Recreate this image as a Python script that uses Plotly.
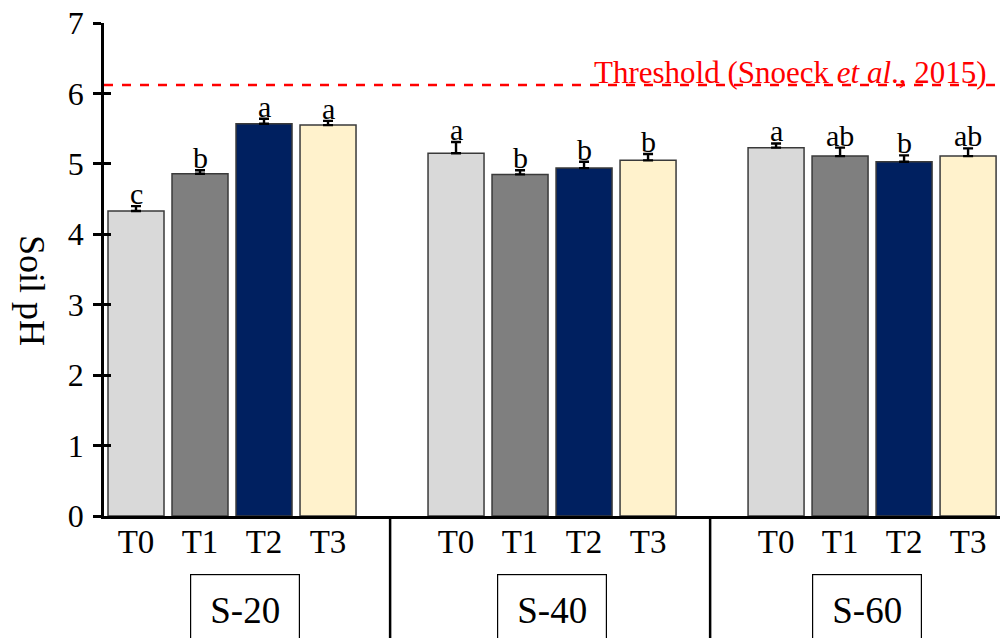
import plotly.graph_objects as go

groups = ["S-20", "S-40", "S-60"]
treatments = ["T0", "T1", "T2", "T3"]
colors = ["#d9d9d9", "#7f7f7f", "#002060", "#fff2cc"]

ph_T0 = [4.33, 5.15, 5.23]
ph_T1 = [4.86, 4.85, 5.11]
ph_T2 = [5.57, 4.94, 5.03]
ph_T3 = [5.55, 5.05, 5.11]

se_T0 = [0.07, 0.16, 0.06]
se_T1 = [0.05, 0.06, 0.12]
se_T2 = [0.07, 0.09, 0.09]
se_T3 = [0.06, 0.09, 0.11]

let_T0 = ["c", "a", "a"]
let_T1 = ["b", "b", "ab"]
let_T2 = ["a", "b", "b"]
let_T3 = ["a", "b", "ab"]

threshold = 6.12
threshold_label = "Threshold (Snoeck <i>et al</i>., 2015)"
y_ticks = [0, 1, 2, 3, 4, 5, 6, 7]

values = [ph_T0, ph_T1, ph_T2, ph_T3]
errors = [se_T0, se_T1, se_T2, se_T3]
letters = [let_T0, let_T1, let_T2, let_T3]

FONT = "Liberation Serif, Times New Roman, serif"
GROUP_STEP = 5

# page body has an 8px margin: shift the figure margins to compensate
W, H = 1008, 638
OFF = 8
PL, PR, PT, PB = 104, 1002, 23, 516      # plot area in window pixels
L, T = PL - OFF, PT - OFF
R, B = W - (PR - OFF), H - (PB - OFF)
pw, ph = PR - PL, PB - PT

fig = go.Figure()
tickvals, ticktext = [], []
annotations = []
for t, name in enumerate(treatments):
    xs = [g * GROUP_STEP + t for g in range(len(groups))]
    tickvals += xs
    ticktext += [name] * len(groups)
    fig.add_trace(go.Bar(
        x=xs, y=values[t], name=name, width=0.875,
        marker=dict(color=colors[t], line=dict(color="#3a3a3a", width=1.5)),
        error_y=dict(type="data", array=errors[t], arrayminus=[0] * len(groups),
                     symmetric=False, color="black", thickness=2.4, width=5),
        showlegend=False,
    ))
    for g in range(len(groups)):
        annotations.append(dict(
            x=xs[g], y=values[t][g] + errors[t][g], xref="x", yref="y",
            text=letters[t][g], showarrow=False, yanchor="bottom", yshift=-6,
            font=dict(family=FONT, size=30, color="black"),
        ))

# dummy trace for secondary y axis (inside ticks)
fig.add_trace(go.Scatter(x=[None], y=[None], yaxis="y2", showlegend=False))

# threshold line
fig.add_shape(type="line", xref="paper", yref="y", x0=0, x1=1.004,
              y0=threshold, y1=threshold,
              line=dict(color="#ff0000", width=2.5, dash="dash"))
annotations.append(dict(
    x=(989 - PL) / pw, y=threshold, xref="paper", yref="y", xanchor="right",
    yanchor="bottom", yshift=-7, text=threshold_label, showarrow=False,
    font=dict(family=FONT, size=31, color="#ff0000"),
))

# group separators
for sep in [GROUP_STEP - 1.03, 2 * GROUP_STEP - 1.03]:
    fig.add_shape(type="line", xref="x", yref="paper", x0=sep, x1=sep,
                  y0=0, y1=-0.28, line=dict(color="black", width=2.5))

# group label boxes
box_x = [1.7, 6.5, 11.42]
for g, name in enumerate(groups):
    annotations.append(dict(
        x=box_x[g], y=(PB - 574) / ph, xref="x", yref="paper", yanchor="top",
        text=name, showarrow=False, width=108, height=70, borderpad=0,
        bordercolor="black", borderwidth=1.2, bgcolor="white",
        font=dict(family=FONT, size=37, color="black"),
    ))

# y axis title
annotations.append(dict(
    x=(32 - PL) / pw, y=(PB - 290) / ph, xref="paper", yref="paper",
    xanchor="center", yanchor="middle",
    text="Soil pH", showarrow=False, textangle=90,
    font=dict(family=FONT, size=36, color="black"),
))

fig.update_layout(
    width=W, height=H,
    margin=dict(l=L, r=R, t=T, b=B, autoexpand=False),
    plot_bgcolor="white", paper_bgcolor="white",
    font=dict(family=FONT, color="black"),
    barmode="overlay",
    xaxis=dict(range=[-0.5, 13.53], tickvals=tickvals, ticktext=ticktext,
               showline=True, linecolor="black", linewidth=2.5, ticks="",
               showgrid=False, zeroline=False, ticklabelstandoff=-5,
               automargin=False, ticklabeloverflow="allow",
               tickfont=dict(family=FONT, size=33, color="black")),
    yaxis=dict(range=[0, 7], tickvals=y_ticks, showline=True, linecolor="black",
               linewidth=2.5, ticks="outside", ticklen=8, tickwidth=2.5,
               tickcolor="black", showgrid=False, zeroline=False,
               ticklabelstandoff=3, ticklabeloverflow="allow", automargin=False,
               tickfont=dict(family=FONT, size=32, color="black")),
    yaxis2=dict(range=[0, 7], tickvals=y_ticks, overlaying="y", side="left",
                ticks="inside", ticklen=7, tickwidth=2.5, tickcolor="black",
                showticklabels=False, showgrid=False, zeroline=False,
                showline=False, automargin=False),
    annotations=annotations,
)

fig.write_html("out.html")
